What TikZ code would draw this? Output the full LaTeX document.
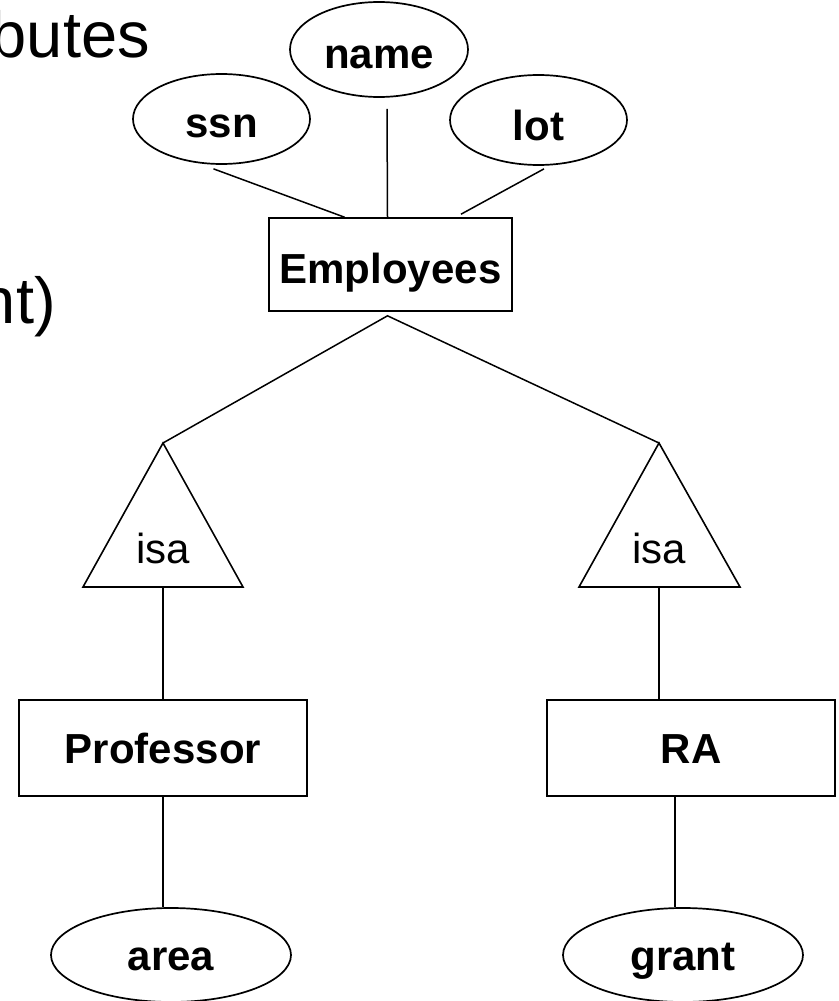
\documentclass[tikz,border=0pt]{standalone}
\usepackage{fontspec}
\setmainfont{Liberation Sans}
\usetikzlibrary{shapes.geometric,calc}
\begin{document}
\begin{tikzpicture}[x=1pt,y=-1pt,
  attr/.style={draw,ellipse,line width=1.7pt,inner sep=0pt,text depth=0pt,font=\fontsize{42}{50}\selectfont\bfseries},
  ent/.style={draw,rectangle,line width=1.6pt,inner sep=0pt,text depth=0pt,font=\fontsize{42}{50}\selectfont\bfseries},
  conn/.style={line width=1.5pt},
  isashape/.style={line width=1.6pt,line join=miter},
  isatext/.style={font=\fontsize{42}{50}\selectfont,inner sep=0pt,anchor=base},
  slide/.style={font=\fontsize{65}{78}\selectfont,inner sep=0pt,anchor=base east}]
\useasboundingbox (0,0) rectangle (838,1001);

% slide text fragments
\node[slide] (t1) at (150,57) {butes};
\node[slide] (t2) at (56,323) {nt)};

% attributes
\node[attr,minimum width=178,minimum height=95,text height=37pt] (name) at (379,49.5) {name};
\node[attr,minimum width=177,minimum height=90,text height=36pt] (ssn) at (221.5,119) {ssn};
\node[attr,minimum width=177,minimum height=90,text height=40pt] (lot) at (538.5,120) {lot};

% entities
\node[ent,minimum width=243,minimum height=93,text height=37pt] (emp) at (390.5,264.5) {Employees};
\node[ent,minimum width=288,minimum height=96,text height=30pt] (prof) at (163,748) {Professor};
\node[ent,minimum width=288,minimum height=96,text height=30pt] (ra) at (691,748) {RA};

% lower attributes
\node[attr,minimum width=240,minimum height=94,text height=30pt] (area) at (171,955) {area};
\node[attr,minimum width=240,minimum height=94,text height=30pt] (grant) at (683,955) {grant};

% isa triangles
\coordinate (tl) at (163,443);
\coordinate (tlb) at (163,587);
\coordinate (tr) at (659,443);
\coordinate (trb) at (659,587);
\draw[isashape] (tl) -- ($(tlb)+(-80,0)$) -- ($(tlb)+(80,0)$) -- cycle;
\draw[isashape] (tr) -- ($(trb)+(-80,0)$) -- ($(trb)+(81,0)$) -- cycle;
\node[isatext] (isa1) at (163,563) {isa};
\node[isatext] (isa2) at (659,563) {isa};

% connectors
\coordinate (j) at ($(emp.south)+(-3,4)$);
\draw[conn] (tl) -- (j) -- (tr);
\draw[conn] ($(ssn.south)+(-8,4)$) -- ($(emp.north)+(-46,0)$);
\draw[conn] ($(name.south)+(8,11)$) -- ($(emp.north)+(-3,0)$);
\draw[conn] ($(lot.south)+(5.5,3)$) -- ($(emp.north)+(70.5,-3)$);
\draw[conn] (tlb) -- (tlb |- prof.north);
\draw[conn] (trb) -- (trb |- ra.north);
\draw[conn] (prof.south) -- (prof.south |- area.north);
\coordinate (rs) at ($(ra.south)+(-16,0)$);
\draw[conn] (rs) -- (rs |- grant.north);
\end{tikzpicture}
\end{document}
